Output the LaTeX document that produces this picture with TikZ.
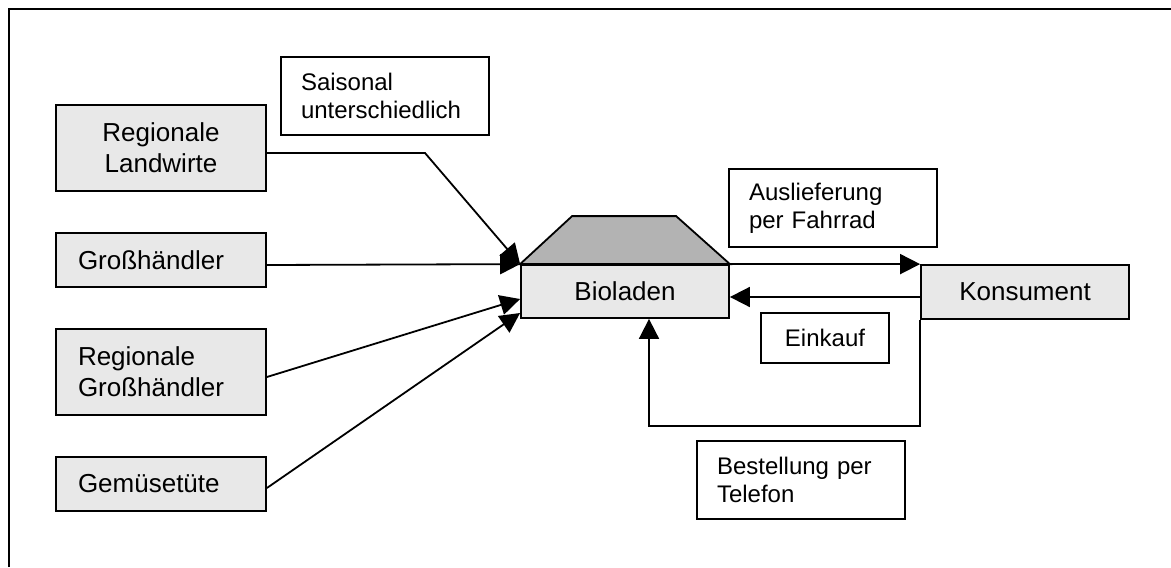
\documentclass[tikz,border=0pt]{standalone}
\usepackage{fontspec}
\setmainfont{Liberation Sans}
\usetikzlibrary{arrows.meta}
\definecolor{boxgray}{HTML}{E8E8E8}
\definecolor{roofgray}{HTML}{B3B3B3}
\begin{document}
\begin{tikzpicture}[x=0.5pt,y=-0.5pt,
  graybox/.style={draw=black, line width=0.9pt, fill=boxgray, inner ysep=0pt,
    font=\fontsize{13}{15.5}\selectfont},
  note/.style={draw=black, line width=0.9pt, fill=white, inner ysep=0pt,
    font=\fontsize{12}{14.2}\selectfont},
  leftpad/.style 2 args={align=left, inner xsep=#2, text width=#1-2*#2},
  centred/.style={align=center, inner xsep=0pt, minimum width=#1},
  arr/.style={draw=black, line width=0.9pt, -{Triangle[length=10pt,width=10pt]}}]

\useasboundingbox (0,0) rectangle (1171,567);

% frame (runs off the page at right and bottom)
\draw[line width=1.1pt] (9,567) -- (9,9) -- (1171,9);

% suppliers
\node[graybox, centred=105pt, minimum height=43pt] (lw) at (161,148) {Regionale\\Landwirte};
\node[graybox, leftpad={105pt}{11pt}, minimum height=27pt] (gh) at (161,260) {Großhändler};
\node[graybox, leftpad={105pt}{11pt}, minimum height=43pt] (rg) at (161,372) {Regionale\\Großhändler};
\node[graybox, leftpad={105pt}{11pt}, minimum height=27pt] (gt) at (161,484) {Gemüsetüte};

% shop with roof
\node[graybox, centred=104pt, minimum height=26.5pt] (bio) at (625,291.5) {Bioladen};
\draw[line width=0.9pt, fill=roofgray] (bio.north west) -- ++(52,-48) -- ++(104,0) -- (bio.north east) -- cycle;

% customer
\node[graybox, centred=104pt, minimum height=27pt] (kon) at (1025,292) {Konsument};

% labels
\node[note, leftpad={104pt}{10pt}, minimum height=39pt] (sai) at (385,96) {Saisonal\\unterschiedlich};
\node[note, leftpad={104pt}{10pt}, minimum height=39pt] (aus) at (833,208) {Auslieferung\\per Fahrrad};
\node[note, centred=64pt, minimum height=25pt] (ein) at (825,338) {Einkauf};
\node[note, leftpad={104pt}{10pt}, minimum height=39pt] (bes) at (801,480) {Bestellung per\\Telefon};

% supply flows
\coordinate (lwbend) at (425,153);
\draw[arr] ([yshift=-2.5pt]lw.east) -- (lwbend) -- (bio.north west);
\draw[arr] ([yshift=-2.5pt]gh.east) -- (bio.north west);
\draw[arr] ([yshift=-2.5pt]rg.east) -- ([yshift=-3.75pt]bio.west);
\draw[arr] ([yshift=-2pt]gt.east) -- ([yshift=-10.75pt]bio.west);

% customer flows
\draw[arr] (bio.north east) -- (kon.north west);
\coordinate (einA) at ([yshift=-2.5pt]kon.west);
\draw[arr] (einA) -- (einA -| bio.east);
\draw[arr] (kon.south west) -- ++(0,106) -| ([xshift=12pt]bio.south);

\end{tikzpicture}
\end{document}
